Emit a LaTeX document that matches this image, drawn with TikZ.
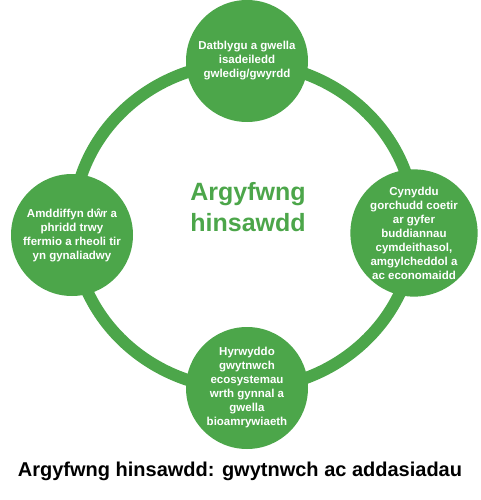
\documentclass[tikz,border=0pt]{standalone}
\usepackage{fontspec}
\setmainfont{Liberation Sans}
\usepackage{tikz}
\usetikzlibrary{positioning}
\definecolor{leaf}{RGB}{76,166,74}
\tikzset{topic/.style = {fill = leaf, circle, inner sep = 0, minimum size = 122,
    text = white, align = center, font = \fontsize{11.5}{14}\selectfont\bfseries}}
\tikzset{ring/.style = {draw = leaf, line width = 12}}

\begin{document}
\begin{tikzpicture}[x=1pt, y=-1pt]
          \useasboundingbox (0, 0) rectangle (480, 500);

          \coordinate (mid) at (244, 226);
          \draw [ring] (mid) ellipse (171 and 163);

          \node [topic] (top) at (247, 61) {Datblygu a gwella\\isadeiledd\\gwledig/gwyrdd};
          \node [topic] (right) at (414, 233) {Cynyddu\\gorchudd coetir\\ar gyfer\\buddiannau\\cymdeithasol,\\amgylcheddol a\\ac economaidd};
          \node [topic] (bottom) at (247, 388) {Hyrwyddo\\gwytnwch\\ecosystemau\\wrth gynnal a\\gwella\\bioamrywiaeth};
          \node [topic] (left) at (72, 235) {Amddiffyn dŵr a\\phridd trwy\\ffermio a rheoli tir\\yn gynaliadwy};

          \node [text = leaf, align = center, font = \fontsize{25}{31}\selectfont\bfseries] (crisis) at (248, 207) {Argyfwng\\hinsawdd};

          \node [font = \fontsize{20}{24}\selectfont\bfseries] (caption) at (240, 471) {Argyfwng hinsawdd: gwytnwch ac addasiadau};
        \end{tikzpicture}
\end{document}
